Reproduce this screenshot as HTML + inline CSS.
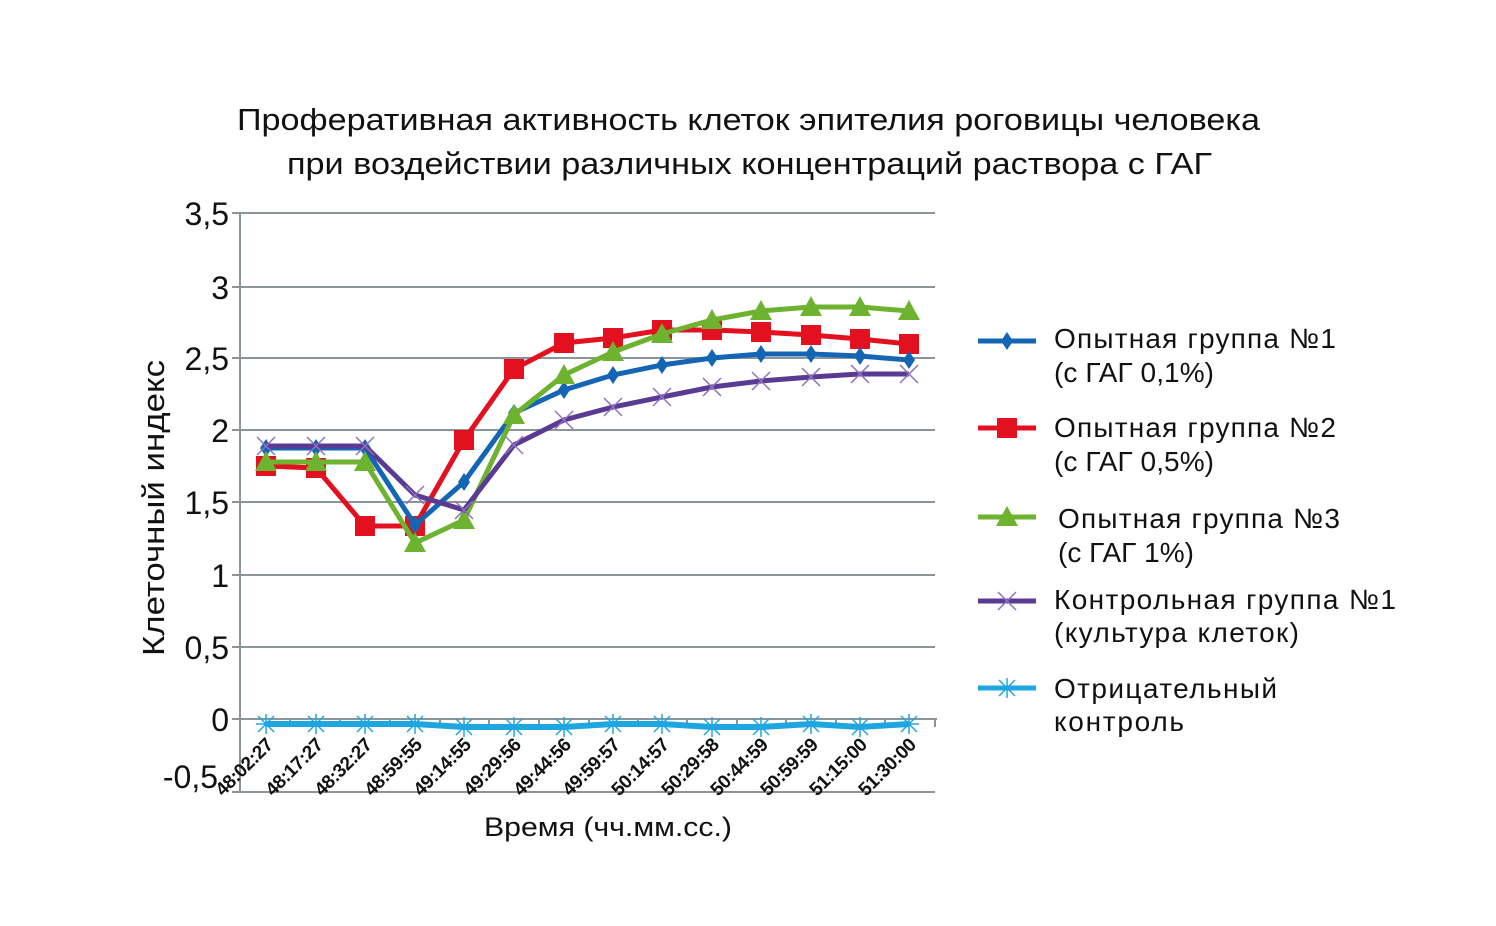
<!DOCTYPE html>
<html><head><meta charset="utf-8"><style>body{margin:0;background:#fff}svg{display:block}</style></head>
<body>
<svg width="1496" height="926" viewBox="0 0 1496 926" xmlns="http://www.w3.org/2000/svg" font-family="Liberation Sans, DejaVu Sans, sans-serif">
<text x="237" y="130" font-size="31" textLength="1023" lengthAdjust="spacingAndGlyphs" fill="#111">Проферативная активность клеток эпителия роговицы человека</text>
<text x="287" y="174" font-size="31" textLength="925" lengthAdjust="spacingAndGlyphs" fill="#111">при воздействии различных концентраций раствора с ГАГ</text>
<g stroke="#8a9499" stroke-width="2">
<line x1="232" y1="213" x2="935" y2="213"/><line x1="232" y1="287" x2="935" y2="287"/>
<line x1="232" y1="358" x2="935" y2="358"/><line x1="232" y1="430" x2="935" y2="430"/>
<line x1="232" y1="502" x2="935" y2="502"/><line x1="232" y1="575" x2="935" y2="575"/>
<line x1="232" y1="647" x2="935" y2="647"/><line x1="232" y1="719" x2="937" y2="719"/>
<line x1="232" y1="792" x2="935" y2="792"/>
<line x1="240" y1="213" x2="240" y2="792"/>
<line x1="290" y1="719" x2="290" y2="727"/><line x1="340" y1="719" x2="340" y2="727"/><line x1="390" y1="719" x2="390" y2="727"/><line x1="440" y1="719" x2="440" y2="727"/><line x1="489" y1="719" x2="489" y2="727"/><line x1="539" y1="719" x2="539" y2="727"/><line x1="589" y1="719" x2="589" y2="727"/><line x1="638" y1="719" x2="638" y2="727"/><line x1="687" y1="719" x2="687" y2="727"/><line x1="737" y1="719" x2="737" y2="727"/><line x1="786" y1="719" x2="786" y2="727"/><line x1="836" y1="719" x2="836" y2="727"/><line x1="885" y1="719" x2="885" y2="727"/><line x1="935" y1="719" x2="935" y2="727"/>
</g>
<g font-size="32" text-anchor="end" fill="#111">
<text x="229" y="225">3,5</text><text x="229" y="299">3</text><text x="229" y="370">2,5</text><text x="229" y="442">2</text><text x="229" y="514">1,5</text><text x="229" y="587">1</text><text x="229" y="659">0,5</text><text x="229" y="731">0</text><text x="218" y="788">-0,5</text>
</g>
<text transform="translate(164,508) rotate(-90)" font-size="31" text-anchor="middle" textLength="296" lengthAdjust="spacingAndGlyphs" fill="#111">Клеточный индекс</text>
<text x="608" y="836" font-size="27" text-anchor="middle" textLength="248" lengthAdjust="spacingAndGlyphs" fill="#111">Время (чч.мм.сс.)</text>
<g font-size="19" font-weight="bold" text-anchor="end" fill="#111" letter-spacing="-0.5">
<text transform="translate(274,746) rotate(-45)">48:02:27</text>
<text transform="translate(324,746) rotate(-45)">48:17:27</text>
<text transform="translate(373,746) rotate(-45)">48:32:27</text>
<text transform="translate(423,746) rotate(-45)">48:59:55</text>
<text transform="translate(472,746) rotate(-45)">49:14:55</text>
<text transform="translate(522,746) rotate(-45)">49:29:56</text>
<text transform="translate(572,746) rotate(-45)">49:44:56</text>
<text transform="translate(621,746) rotate(-45)">49:59:57</text>
<text transform="translate(670,746) rotate(-45)">50:14:57</text>
<text transform="translate(720,746) rotate(-45)">50:29:58</text>
<text transform="translate(769,746) rotate(-45)">50:44:59</text>
<text transform="translate(819,746) rotate(-45)">50:59:59</text>
<text transform="translate(868,746) rotate(-45)">51:15:00</text>
<text transform="translate(917,746) rotate(-45)">51:30:00</text>
</g>
<defs>
<g id="xm"><path d="M-9,-9L9,9M-9,9L9,-9" stroke="#8e72c0" stroke-width="1.5"/></g>
<g id="st"><path d="M-10,0H10M0,-10V10M-8,-8L8,8M-8,8L8,-8" stroke="#1ea6e0" stroke-width="1.5"/></g>
<path id="dm" d="M0,-9L6,0L0,9L-6,0Z" fill="#1565b5"/>
<rect id="sq" x="-10" y="-10" width="20" height="20" fill="#e3101f"/>
<path id="tr" d="M0,-11L11,9H-11Z" fill="#6db330"/>
</defs>
<polyline fill="none" stroke="#1ea6e0" stroke-width="6" points="266,724 316,724 365,724 415,724 464,727 514,727 564,727 613,724 662,724 712,727 761,727 811,724 860,727 909,724"/>
<g><use href="#st" x="266" y="724"/><use href="#st" x="316" y="724"/><use href="#st" x="365" y="724"/><use href="#st" x="415" y="724"/><use href="#st" x="464" y="727"/><use href="#st" x="514" y="727"/><use href="#st" x="564" y="727"/><use href="#st" x="613" y="724"/><use href="#st" x="662" y="724"/><use href="#st" x="712" y="727"/><use href="#st" x="761" y="727"/><use href="#st" x="811" y="724"/><use href="#st" x="860" y="727"/><use href="#st" x="909" y="724"/></g>
<polyline fill="none" stroke="#e3101f" stroke-width="5" points="266,466 316,468 365,526 415,526 464,440 514,369 564,343 613,338 662,330 712,330 761,332 811,335 860,339 909,344"/>
<g><use href="#sq" x="266" y="466"/><use href="#sq" x="316" y="468"/><use href="#sq" x="365" y="526"/><use href="#sq" x="415" y="526"/><use href="#sq" x="464" y="440"/><use href="#sq" x="514" y="369"/><use href="#sq" x="564" y="343"/><use href="#sq" x="613" y="338"/><use href="#sq" x="662" y="330"/><use href="#sq" x="712" y="330"/><use href="#sq" x="761" y="332"/><use href="#sq" x="811" y="335"/><use href="#sq" x="860" y="339"/><use href="#sq" x="909" y="344"/></g>
<polyline fill="none" stroke="#1565b5" stroke-width="5" points="266,448 316,448 365,448 415,525 464,482 514,413 564,390 613,375 662,365 712,358 761,354 811,354 860,356 909,360"/>
<g><use href="#dm" x="266" y="448"/><use href="#dm" x="316" y="448"/><use href="#dm" x="365" y="448"/><use href="#dm" x="415" y="525"/><use href="#dm" x="464" y="482"/><use href="#dm" x="514" y="413"/><use href="#dm" x="564" y="390"/><use href="#dm" x="613" y="375"/><use href="#dm" x="662" y="365"/><use href="#dm" x="712" y="358"/><use href="#dm" x="761" y="354"/><use href="#dm" x="811" y="354"/><use href="#dm" x="860" y="356"/><use href="#dm" x="909" y="360"/></g>
<polyline fill="none" stroke="#6db330" stroke-width="5" points="266,462 316,462 365,462 415,543 464,520 514,415 564,375 613,352 662,334 712,320 761,311 811,307 860,307 909,311"/>
<g><use href="#tr" x="266" y="462"/><use href="#tr" x="316" y="462"/><use href="#tr" x="365" y="462"/><use href="#tr" x="415" y="543"/><use href="#tr" x="464" y="520"/><use href="#tr" x="514" y="415"/><use href="#tr" x="564" y="375"/><use href="#tr" x="613" y="352"/><use href="#tr" x="662" y="334"/><use href="#tr" x="712" y="320"/><use href="#tr" x="761" y="311"/><use href="#tr" x="811" y="307"/><use href="#tr" x="860" y="307"/><use href="#tr" x="909" y="311"/></g>
<polyline fill="none" stroke="#5b3a93" stroke-width="5" points="266,446 316,446 365,446 415,495 464,510 514,445 564,420 613,407 662,397 712,387 761,381 811,377 860,374 909,374"/>
<g><use href="#xm" x="266" y="446"/><use href="#xm" x="316" y="446"/><use href="#xm" x="365" y="446"/><use href="#xm" x="415" y="495"/><use href="#xm" x="464" y="510"/><use href="#xm" x="514" y="445"/><use href="#xm" x="564" y="420"/><use href="#xm" x="613" y="407"/><use href="#xm" x="662" y="397"/><use href="#xm" x="712" y="387"/><use href="#xm" x="761" y="381"/><use href="#xm" x="811" y="377"/><use href="#xm" x="860" y="374"/><use href="#xm" x="909" y="374"/></g>
<g font-size="28" fill="#111" lengthAdjust="spacingAndGlyphs">
<line x1="978" y1="341" x2="1036" y2="341" stroke="#1565b5" stroke-width="5"/><use href="#dm" x="1007" y="341"/>
<text x="1054" y="348" textLength="282">Опытная группа №1</text><text x="1054" y="382" textLength="160">(с ГАГ 0,1%)</text>
<line x1="978" y1="428" x2="1036" y2="428" stroke="#e3101f" stroke-width="5"/><use href="#sq" x="1007" y="428"/>
<text x="1054" y="437" textLength="282">Опытная группа №2</text><text x="1054" y="471" textLength="160">(с ГАГ 0,5%)</text>
<line x1="978" y1="517" x2="1036" y2="517" stroke="#6db330" stroke-width="5"/><use href="#tr" x="1007" y="517"/>
<text x="1058" y="528" textLength="282">Опытная группа №3</text><text x="1058" y="562" textLength="136">(с ГАГ 1%)</text>
<line x1="978" y1="601" x2="1036" y2="601" stroke="#5b3a93" stroke-width="5"/><use href="#xm" x="1007" y="601"/>
<text x="1054" y="609" textLength="342">Контрольная группа №1</text><text x="1054" y="642" textLength="245">(культура клеток)</text>
<line x1="978" y1="688" x2="1036" y2="688" stroke="#1ea6e0" stroke-width="5"/><use href="#st" x="1007" y="688"/>
<text x="1054" y="698" textLength="223">Отрицательный</text><text x="1054" y="731" textLength="130">контроль</text>
</g>
</svg>
</body></html>
